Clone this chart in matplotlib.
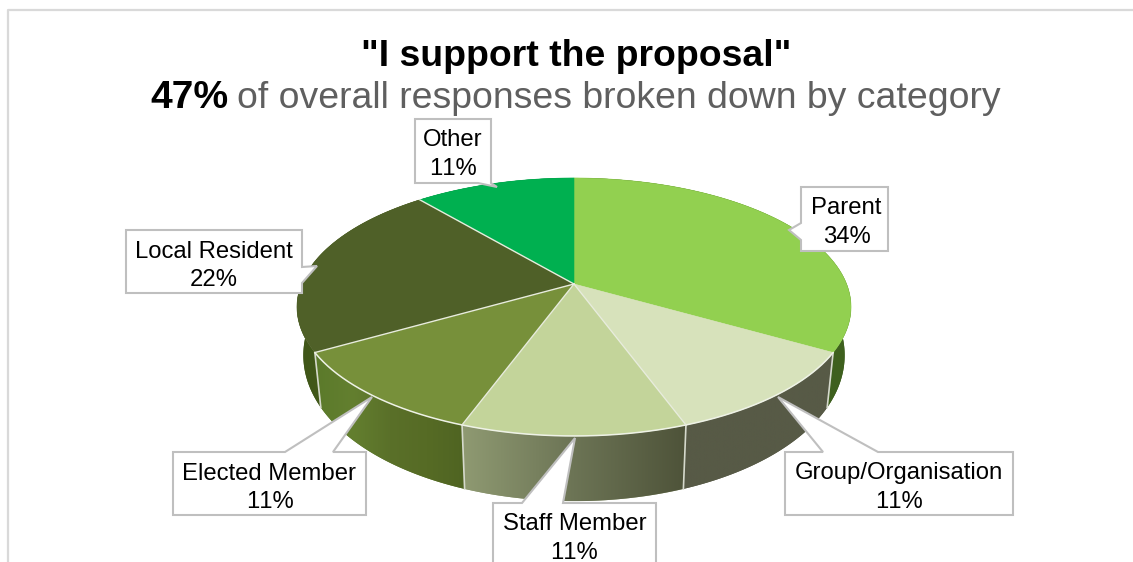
import numpy as np
import matplotlib
matplotlib.use("Agg")
import matplotlib.pyplot as plt
from matplotlib.patches import Polygon
from matplotlib.colors import LinearSegmentedColormap

plt.rcParams["font.family"] = ["Liberation Sans", "DejaVu Sans"]
plt.rcParams["text.kerning_factor"] = 12

categories = ["Parent", "Group/Organisation", "Staff Member", "Elected Member", "Local Resident", "Other"]
shares = [3, 1, 1, 1, 2, 1]
percent_labels = ["34%", "11%", "11%", "11%", "22%", "11%"]
top_colors = ["#92d050", "#d7e2bb", "#c3d49a", "#77903a", "#4f6028", "#00b050"]
side_colors = [
    ["#3a5a1c", "#3f611f"],
    ["#575a46", "#575a46"],
    ["#8f9a72", "#6c7455", "#4e5339"],
    ["#5b7a2b", "#637f2f", "#5a7029", "#566b25", "#4f6422"],
    ["#3f5518", "#4f6a22"],
    ["#007a38", "#007a38"],
]

# label outlines in pixels, pointer included; first y is the top of the box
callouts = {
    "Parent": [(801, 187), (888, 187), (888, 251), (801, 251), (801, 240), (789, 230), (801, 223)],
    "Group/Organisation": [(785, 452), (823, 452), (778, 397), (878, 452), (1013, 452), (1013, 515), (785, 515)],
    "Staff Member": [(493, 503), (522, 503), (575, 438), (563, 503), (656, 503), (656, 580), (493, 580)],
    "Elected Member": [(173, 452), (285, 452), (372, 397), (333, 452), (366, 452), (366, 515), (173, 515)],
    "Local Resident": [(126, 230), (302, 230), (302, 267), (317, 266), (302, 283), (302, 293), (126, 293)],
    "Other": [(415, 119), (491, 119), (491, 183), (497, 187), (478, 183), (415, 183)],
}
label_centers = {
    "Parent": 846.5, "Group/Organisation": 899, "Staff Member": 574.5,
    "Elected Member": 269.5, "Local Resident": 214, "Other": 453,
}

W, H = 1133, 562
fig = plt.figure(figsize=(W / 100, H / 100), dpi=100)
ax = fig.add_axes([0, 0, 1, 1])
ax.set_xlim(0, W)
ax.set_ylim(H, 0)
ax.axis("off")

CX, CY, R, A, B = 574.0, 284.0, 272.6, 124.9, 0.178


def top_xy(t):
    u, v = np.sin(t), np.cos(t)
    den = 1 + B * v
    return CX + R * u / den, CY - A * v / den


def bottom_xy(t):
    x, y = top_xy(t)
    return CX + (x - CX) * 0.977, y + 44.7 - 20.5 * np.cos(t)


ax.plot([8, 8, W], [H, 9.5, 9.5], color="#d9d9d9", lw=1.6, solid_capstyle="butt", zorder=1)

edges = np.cumsum([0] + shares) / sum(shares) * 2 * np.pi
arcs = [np.linspace(edges[i], edges[i + 1], 120) for i in range(len(shares))]

# walls: back to front
order = [5, 0, 4, 1, 3, 2]
for i in order:
    t = arcs[i]
    tx, ty = top_xy(t)
    bx, by = bottom_xy(t)
    poly = Polygon(np.c_[np.r_[tx, bx[::-1]], np.r_[ty, by[::-1]]], closed=True,
                   facecolor=side_colors[i][0], edgecolor="none", zorder=2)
    ax.add_patch(poly)
    cmap = LinearSegmentedColormap.from_list("s", side_colors[i])
    x0, x1 = min(tx.min(), bx.min()), max(tx.max(), bx.max())
    im = ax.imshow(np.linspace(0, 1, 256)[None, :], cmap=cmap, aspect="auto",
                   extent=(x0, x1, max(by.max(), ty.max()), min(by.min(), ty.min())), zorder=2.1)
    im.set_clip_path(poly)
ax.set_xlim(0, W)
ax.set_ylim(H, 0)

# seams on the front wall
for e in edges[1:5]:
    x0, y0 = top_xy(e)
    x1, y1 = bottom_xy(e)
    ax.plot([x0, x1], [y0, y1], color="#d5d9cc", lw=1.2, zorder=2.5)

# top faces
for i, t in enumerate(arcs):
    tx, ty = top_xy(t)
    ax.add_patch(Polygon(np.c_[np.r_[CX, tx], np.r_[CY, ty]], closed=True,
                         facecolor=top_colors[i], edgecolor=top_colors[i], lw=0.4, zorder=3))

# light rim on the front and light radial lines between slices
front = np.linspace(edges[1], edges[4], 200)
fx, fy = top_xy(front)
ax.plot(fx, fy, color="#eef2e6", lw=1.1, zorder=3.2)
for e in edges[2:6]:
    x1, y1 = top_xy(e)
    ax.plot([CX, x1], [CY, y1], color="#e8ecdd", lw=1.0, zorder=3.2)

# labels
for name, pct in zip(categories, percent_labels):
    outline = callouts[name]
    ax.add_patch(Polygon(outline, closed=True, facecolor="white", edgecolor="#bfbfbf",
                         lw=1.5, zorder=4, joinstyle="miter"))
    box_y0 = outline[0][1]
    xc = label_centers[name]
    ax.text(xc, box_y0 + 27.5, name, ha="center", va="baseline", fontsize=17.2, color="#000000", zorder=5)
    ax.text(xc, box_y0 + 56, pct, ha="center", va="baseline", fontsize=17.2, color="#000000", zorder=5)

ax.text(576, 66.5, '"I support the proposal"', ha="center", va="baseline", fontsize=26.9,
        fontweight="bold", color="#000000", zorder=6)
ax.text(150, 108, "47%", ha="left", va="baseline", fontsize=28.1, fontweight="bold",
        color="#000000", zorder=6)
ax.text(237, 108, "of overall responses broken down by category", ha="left", va="baseline",
        fontsize=26.9, color="#5f5f5f", zorder=6)

fig.savefig("out.png", dpi=100)
